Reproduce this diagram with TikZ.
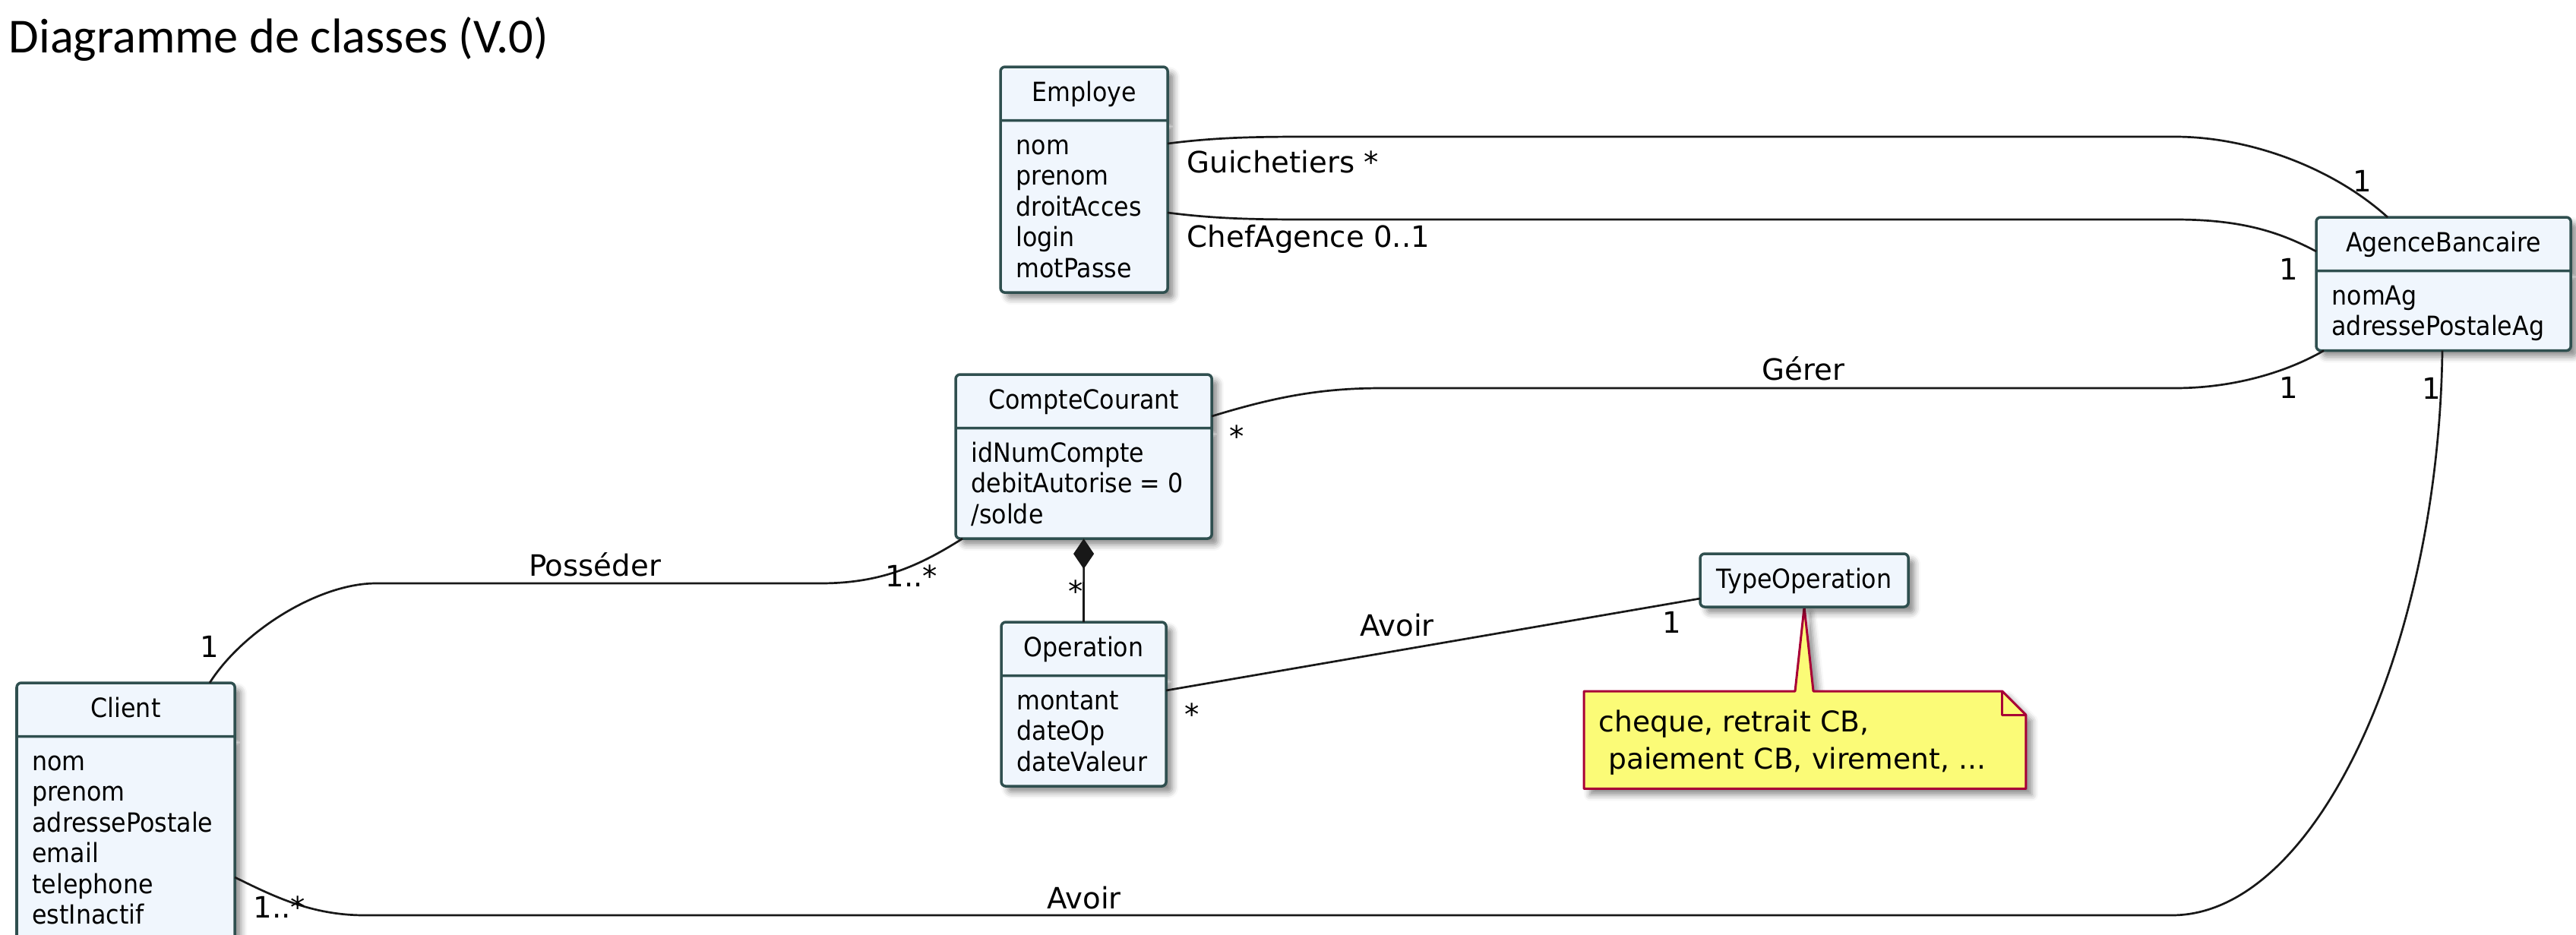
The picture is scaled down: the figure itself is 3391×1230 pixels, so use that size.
\documentclass[tikz,border=0pt]{standalone}
\usepackage{fontspec}
\setmainfont{DejaVu Sans}
\newfontfamily\titrefont{Carlito}
\newfontfamily\classefont[FakeStretch=0.91]{DejaVu Sans}
\usetikzlibrary{arrows.meta, shapes.multipart, shadows.blur, calc}

\definecolor{fondclasse}{HTML}{F0F6FD}
\definecolor{bordclasse}{HTML}{2F4F4F}
\definecolor{fondnote}{HTML}{FBFB77}
\definecolor{bordnote}{HTML}{A80036}
\definecolor{trait}{HTML}{181818}

\newcommand{\entete}[1]{\rule[-2.3mm]{0pt}{6.7mm}#1}
\newcommand{\hautattr}{\rule{0pt}{4.3mm}}
\newcommand{\basattr}{\rule[-1.8mm]{0pt}{1.8mm}}

\pgfdeclarelayer{fond}
\pgfsetlayers{fond,main}

\tikzset{
  ombre/.style={blur shadow={shadow xshift=0.8mm, shadow yshift=-0.8mm,
      shadow blur radius=0.8mm, shadow opacity=45}},
  classe/.style={rectangle split, rectangle split parts=2,
    rectangle split part align={center,left},
    draw=bordclasse, fill=fondclasse, line width=0.35mm, rounded corners=0.6mm,
    inner xsep=2.05mm, inner ysep=0pt, outer sep=0pt, align=left,
    anchor=north west, font=\classefont\fontsize{9.9pt}{4.05mm}\selectfont, ombre},
  classeseule/.style={rectangle, draw=bordclasse, fill=fondclasse,
    line width=0.35mm, rounded corners=0.6mm, inner xsep=1mm, inner ysep=0pt,
    outer sep=0pt, anchor=north west, font=\classefont\fontsize{9.9pt}{4.05mm}\selectfont, ombre},
  notetexte/.style={text width=54.2mm, align=left, inner xsep=1.9mm, inner ysep=0pt,
    minimum height=12.7mm, anchor=north west, font=\fontsize{10.7pt}{4.9mm}\selectfont},
  notebord/.style={draw=bordnote, fill=fondnote, line width=0.3mm, line join=round},
  assoc/.style={draw=trait, line width=0.27mm},
  libelle/.style={inner sep=0pt, font=\fontsize{11pt}{13pt}\selectfont},
  mult/.style={libelle, anchor=base},
}

\begin{document}
\begin{tikzpicture}[x=0.01cm, y=-0.01cm]
  \useasboundingbox (0,0) rectangle (3391,1230);
  \clip (0,0) rectangle (3391,1230);

  % Titre
  \node[anchor=base west, inner sep=0pt, font=\titrefont\fontsize{18.3pt}{22pt}\selectfont]
    (titre) at (11,69) {Diagramme de classes (V.0)};

  % Classes
  \node[classe, minimum width=22mm] (emp) at (1317,88)
    {\entete{Employe}\nodepart{second}\hautattr nom\\prenom\\droitAcces\\login\\motPasse\basattr};
  \node[classe, minimum width=33.5mm] (agb) at (3049,286)
    {\entete{AgenceBancaire}\nodepart{second}\hautattr nomAg\\adressePostaleAg\basattr};
  \node[classe, minimum width=33.7mm] (cc) at (1258,493)
    {\entete{CompteCourant}\nodepart{second}\hautattr idNumCompte\\debitAutorise = 0\\/solde\basattr};
  \node[classe, minimum width=21.7mm] (op) at (1318,819)
    {\entete{Operation}\nodepart{second}\hautattr montant\\dateOp\\dateValeur\basattr};
  \node[classe, minimum width=28.7mm] (cli) at (22,899)
    {\entete{Client}\nodepart{second}\hautattr nom\\prenom\\adressePostale\\email\\telephone\\estInactif\basattr};
  \node[classeseule, minimum width=27.4mm] (typ) at (2238,729)
    {\rule[-2.5mm]{0pt}{7mm}TypeOperation};

  % Note
  \node[notetexte] (note) at (2085,910)
    {\rule{0pt}{4.8mm}cheque, retrait CB,\\\ paiement CB, virement, ...\rule[-2mm]{0pt}{2mm}};
  \begin{pgfonlayer}{fond}
    \path[notebord, ombre] (note.north west) -- ($(note.north west)+(278,0)$) -- (typ.south)
      -- ($(note.north west)+(302,0)$) -- ($(note.north east)+(-31,0)$)
      -- ($(note.north east)+(0,31)$) -- (note.south east) -- (note.south west) -- cycle;
    \draw[notebord, fill=none] ($(note.north east)+(-31,0)$) -- ($(note.north east)+(-31,31)$)
      -- ($(note.north east)+(0,31)$);
  \end{pgfonlayer}

  % Associations
  \draw[assoc] ($(emp.north east)+(0,101)$) .. controls (1600,181) and (1650,180) .. (1720,180)
    -- (2863,180) .. controls (2960,180) and (3070,220) .. ($(agb.north west)+(94,0)$);
  \draw[assoc] ($(emp.north east)+(0,192)$) .. controls (1600,288) and (1650,289) .. (1720,289)
    -- (2863,289) .. controls (2950,289) and (3000,305) .. ($(agb.north west)+(0,45)$);
  \draw[assoc] ($(cc.north east)+(0,55)$) .. controls (1680,522) and (1740,511) .. (1820,511)
    -- (2863,511) .. controls (2940,511) and (3010,490) .. ($(agb.south west)+(10,0)$);
  \draw[assoc] ($(cc.south west)+(9,0)$) .. controls (1210,745) and (1160,768) .. (1080,768)
    -- (495,768) .. controls (420,768) and (320,830) .. ($(cli.north west)+(254,0)$);
  \draw[assoc] ($(cli.north east)+(0,256)$) .. controls (360,1180) and (410,1205) .. (480,1205)
    -- (2859,1205) .. controls (3050,1205) and (3210,850) .. ($(agb.south west)+(166,0)$);
  \draw[assoc] ($(op.north east)+(0,90)$) -- ($(typ.north west)+(0,59)$);

  % Composition
  \draw[assoc, {Diamond[length=4mm, width=2.7mm]}-] (cc.south) -- (op.north);

  % Libelles
  \node[libelle, anchor=base west] (guich) at (1562,227) {Guichetiers *};
  \node[libelle, anchor=base west] (chef) at (1562,325) {ChefAgence 0..1};
  \node[libelle, anchor=base] (gerer) at (2374,500) {Gérer};
  \node[libelle, anchor=base] (posseder) at (783,758) {Posséder};
  \node[libelle, anchor=base] (avoirop) at (1839,837) {Avoir};
  \node[libelle, anchor=base] (avoircli) at (1427,1196) {Avoir};

  % Multiplicites
  \foreach \n/\x/\y/\t in {m1/3110/252/1, m2/3013/368/1, m3/3013/524/1, m4/3201/525/1,
      m5/1628/588/*, m6/1200/772/1..*, m7/276/865/1, m8/368/1208/1..*,
      m9/1416/792/*, m10/1569/954/*, m11/2201/833/1}
  {
    \node[mult] (\n) at (\x,\y) {\t};
  }
\end{tikzpicture}
\end{document}
